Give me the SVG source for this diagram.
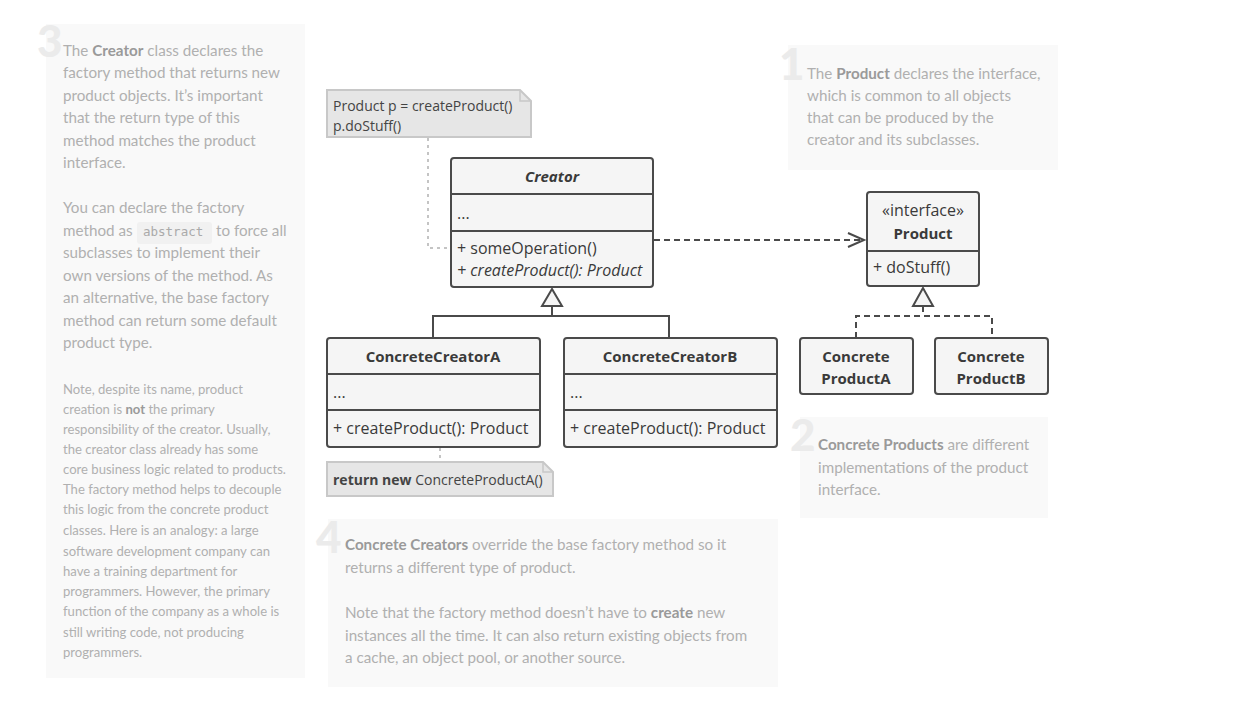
<svg xmlns="http://www.w3.org/2000/svg" width="1241" height="701" viewBox="0 0 1241 701">
<defs>
<style>
.panel{fill:#f9f9f9}
.num{font-family:Lato,"Open Sans",sans-serif;font-weight:900;font-size:44px;fill:#ebebeb}
.pt{font-family:Lato,"Open Sans",sans-serif;font-size:15.2px;fill:#b0b0b0}
.ps{font-family:Lato,"Open Sans",sans-serif;font-size:13.1px;fill:#b0b0b0}
.b{font-weight:bold;fill:#9a9a9a}
.code{font-family:"DejaVu Sans Mono","Liberation Mono",monospace;font-size:12.5px;fill:#aaa}
.box{fill:#f5f5f5;stroke:#4a4a4a;stroke-width:2}
.div{stroke:#4a4a4a;stroke-width:2;fill:none}
.t{font-family:"Open Sans","Noto Sans",sans-serif;font-size:16px;fill:#3a3a3a}
.tb{font-family:"Open Sans","Noto Sans",sans-serif;font-size:15px;font-weight:bold;fill:#3a3a3a}
.note{fill:#e6e6e6;stroke:#c8c8c8;stroke-width:2}
.nt{font-family:"Open Sans","Noto Sans",sans-serif;font-size:14px;fill:#444}
.dot{stroke:#c4c4c4;stroke-width:2;stroke-dasharray:3 4;fill:none}
.dash{stroke:#4a4a4a;stroke-width:2;stroke-dasharray:6 4;fill:none}
.solid{stroke:#4a4a4a;stroke-width:2;fill:none}
.tri{fill:#f5f5f5;stroke:#4a4a4a;stroke-width:2}
</style>
<marker id="open" markerWidth="20" markerHeight="16" refX="17" refY="8" orient="auto" markerUnits="userSpaceOnUse">
<path d="M1,1 L17,8 L1,15" fill="none" stroke="#4a4a4a" stroke-width="2"/>
</marker>
</defs>
<rect width="1241" height="701" fill="#ffffff"/>

<!-- Panel 3 -->
<g id="panel3">
<rect class="panel" x="46" y="24" width="259" height="654"/>
<text class="num" x="37" y="57">3</text>
<text class="pt" x="63" y="56">The <tspan class="b">Creator</tspan> class declares the</text>
<text class="pt" x="63" y="78">factory method that returns new</text>
<text class="pt" x="63" y="101">product objects. It’s important</text>
<text class="pt" x="63" y="123">that the return type of this</text>
<text class="pt" x="63" y="146">method matches the product</text>
<text class="pt" x="63" y="168">interface.</text>
<text class="pt" x="63" y="213">You can declare the factory</text>
<rect x="137" y="222" width="75" height="22" rx="3" fill="#f1f1f1"/>
<text class="pt" x="63" y="236">method as</text>
<text class="code" x="143" y="236">abstract</text>
<text class="pt" x="216" y="236">to force all</text>
<text class="pt" x="63" y="258">subclasses to implement their</text>
<text class="pt" x="63" y="281">own versions of the method. As</text>
<text class="pt" x="63" y="303">an alternative, the base factory</text>
<text class="pt" x="63" y="326">method can return some default</text>
<text class="pt" x="63" y="348">product type.</text>
<text class="ps" x="63" y="394">Note, despite its name, product</text>
<text class="ps" x="63" y="414">creation is <tspan class="b">not</tspan> the primary</text>
<text class="ps" x="63" y="434">responsibility of the creator. Usually,</text>
<text class="ps" x="63" y="454">the creator class already has some</text>
<text class="ps" x="63" y="474">core business logic related to products.</text>
<text class="ps" x="63" y="494">The factory method helps to decouple</text>
<text class="ps" x="63" y="514">this logic from the concrete product</text>
<text class="ps" x="63" y="535">classes. Here is an analogy: a large</text>
<text class="ps" x="63" y="556">software development company can</text>
<text class="ps" x="63" y="576">have a training department for</text>
<text class="ps" x="63" y="596">programmers. However, the primary</text>
<text class="ps" x="63" y="616">function of the company as a whole is</text>
<text class="ps" x="63" y="637">still writing code, not producing</text>
<text class="ps" x="63" y="657">programmers.</text>
</g>

<!-- Panel 1 -->
<g id="panel1">
<rect class="panel" x="788" y="45" width="270" height="125"/>
<text class="num" x="779" y="80">1</text>
<text class="pt" x="807" y="79">The <tspan class="b">Product</tspan> declares the interface,</text>
<text class="pt" x="807" y="101">which is common to all objects</text>
<text class="pt" x="807" y="123">that can be produced by the</text>
<text class="pt" x="807" y="145">creator and its subclasses.</text>
</g>

<!-- Panel 2 -->
<g id="panel2">
<rect class="panel" x="800" y="417" width="248" height="101"/>
<text class="num" x="790" y="451">2</text>
<text class="pt" x="818" y="450"><tspan class="b">Concrete Products</tspan> are different</text>
<text class="pt" x="818" y="473">implementations of the product</text>
<text class="pt" x="818" y="495">interface.</text>
</g>

<!-- Panel 4 -->
<g id="panel4">
<rect class="panel" x="328" y="519" width="450" height="168"/>
<text class="num" x="316" y="553">4</text>
<text class="pt" x="345" y="550"><tspan class="b">Concrete Creators</tspan> override the base factory method so it</text>
<text class="pt" x="345" y="573">returns a different type of product.</text>
<text class="pt" x="345" y="618">Note that the factory method doesn’t have to <tspan class="b">create</tspan> new</text>
<text class="pt" x="345" y="641">instances all the time. It can also return existing objects from</text>
<text class="pt" x="345" y="663">a cache, an object pool, or another source.</text>
</g>

<!-- Connectors -->
<g id="connectors">
<polyline class="dot" points="428,138 428,248 450,248"/>
<line class="dot" x1="440" y1="448" x2="440" y2="461"/>
<line class="dash" x1="654" y1="240" x2="864" y2="240" marker-end="url(#open)"/>
<polyline class="solid" points="552,306 552,316"/>
<polyline class="solid" points="433,338 433,316 669,316 669,338"/>
<polygon class="tri" points="552,289 542,306 562,306"/>
<line class="dash" x1="923" y1="306" x2="923" y2="316"/>
<polyline class="dash" points="856,338 856,316 992,316 992,338"/>
<polygon class="tri" points="923,288 913,306 933,306"/>
</g>

<!-- Note 1 -->
<g id="note1">
<path class="note" d="M327,90 L520,90 L531,101 L531,137 L327,137 Z"/>
<path d="M520,90 L520,101 L531,101" fill="none" stroke="#c8c8c8" stroke-width="1.5"/>
<text class="nt" x="333" y="111">Product p = createProduct()</text>
<text class="nt" x="333" y="131">p.doStuff()</text>
</g>

<!-- Creator -->
<g id="creator">
<rect class="box" x="451" y="158" width="202" height="129" rx="3"/>
<line class="div" x1="451" y1="194" x2="653" y2="194"/>
<line class="div" x1="451" y1="231" x2="653" y2="231"/>
<text class="tb" x="552" y="182" text-anchor="middle" font-style="italic">Creator</text>
<text class="t" x="457" y="219">...</text>
<text class="t" x="457" y="254">+ someOperation()</text>
<text class="t" x="457" y="276" font-style="italic">+ createProduct(): Product</text>
</g>

<!-- Product -->
<g id="product">
<rect class="box" x="867" y="192" width="112" height="94" rx="3"/>
<line class="div" x1="867" y1="251" x2="979" y2="251"/>
<text class="t" x="923" y="216" text-anchor="middle">«interface»</text>
<text class="tb" x="923" y="239" text-anchor="middle">Product</text>
<text class="t" x="873" y="273">+ doStuff()</text>
</g>

<!-- ConcreteCreatorA -->
<g id="concreteCreatorA">
<rect class="box" x="327" y="338" width="213" height="109" rx="3"/>
<line class="div" x1="327" y1="374" x2="540" y2="374"/>
<line class="div" x1="327" y1="410" x2="540" y2="410"/>
<text class="tb" x="433" y="362" text-anchor="middle">ConcreteCreatorA</text>
<text class="t" x="333" y="398">...</text>
<text class="t" x="333" y="434">+ createProduct(): Product</text>
</g>

<!-- ConcreteCreatorB -->
<g id="concreteCreatorB">
<rect class="box" x="564" y="338" width="213" height="109" rx="3"/>
<line class="div" x1="564" y1="374" x2="777" y2="374"/>
<line class="div" x1="564" y1="410" x2="777" y2="410"/>
<text class="tb" x="670" y="362" text-anchor="middle">ConcreteCreatorB</text>
<text class="t" x="570" y="398">...</text>
<text class="t" x="570" y="434">+ createProduct(): Product</text>
</g>

<!-- ConcreteProductA -->
<g id="concreteProductA">
<rect class="box" x="800" y="338" width="113" height="56" rx="3"/>
<text class="tb" x="856" y="362" text-anchor="middle">Concrete</text>
<text class="tb" x="856" y="384" text-anchor="middle">ProductA</text>
</g>

<!-- ConcreteProductB -->
<g id="concreteProductB">
<rect class="box" x="935" y="338" width="113" height="56" rx="3"/>
<text class="tb" x="991" y="362" text-anchor="middle">Concrete</text>
<text class="tb" x="991" y="384" text-anchor="middle">ProductB</text>
</g>

<!-- Note 2 -->
<g id="note2">
<path class="note" d="M327,462 L543,462 L553,472 L553,496 L327,496 Z"/>
<path d="M543,462 L543,472 L553,472" fill="none" stroke="#c8c8c8" stroke-width="1.5"/>
<text class="nt" x="333" y="485"><tspan font-weight="bold">return new</tspan> ConcreteProductA()</text>
</g>
</svg>
